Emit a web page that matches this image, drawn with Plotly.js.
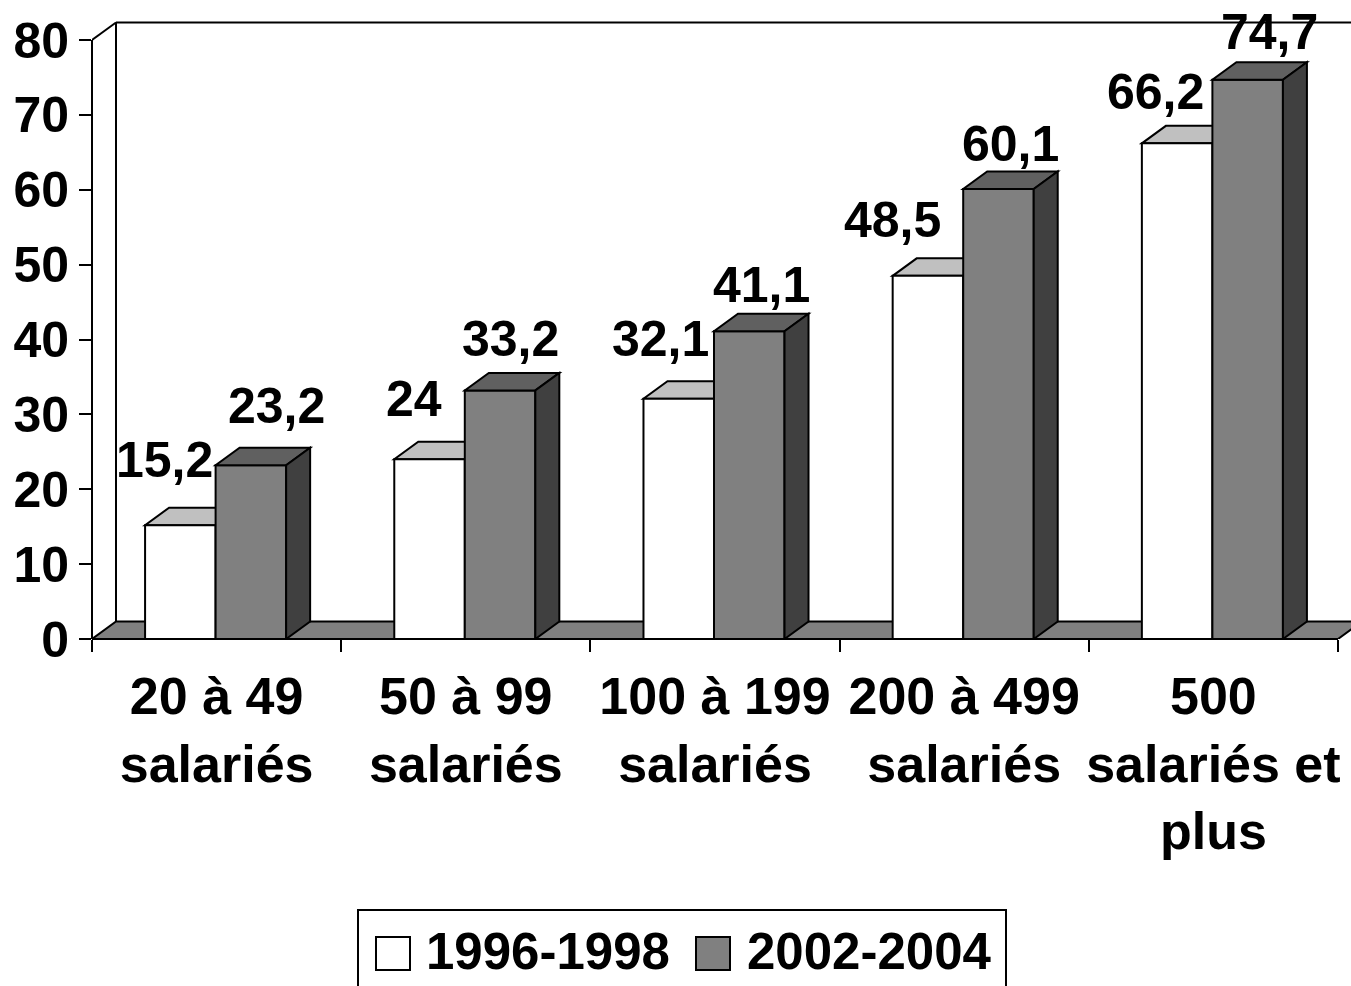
<!DOCTYPE html>
<html>
<head>
<meta charset="utf-8">
<script src="https://cdn.plot.ly/plotly-3.0.1.min.js"></script>
<style>html,body{margin:0;padding:0;background:#fff;}#chart{width:1351px;height:986px;}</style>
</head>
<body>
<div id="chart"></div>
<script>
// ---- data ----
const categoryLabels = ['20 à 49<br>salariés', '50 à 99<br>salariés', '100 à 199<br>salariés', '200 à 499<br>salariés', '500<br>salariés et<br>plus'];
const seriesNames = ['1996-1998', '2002-2004'];
const values1996 = [15.2, 24, 32.1, 48.5, 66.2];
const values2002 = [23.2, 33.2, 41.1, 60.1, 74.7];
const yTickValues = [0, 10, 20, 30, 40, 50, 60, 70, 80];

// ---- layout geometry / styles ----
const W = 1351, H = 986, ML = 92, MR = 0, MT = 10, MB = 347;
const PX_X = (W - ML - MR) / (4.5522 + 0.5);
const PX_Y = (H - MT - MB) / 84.007;
const DX = 24 / PX_X, DY = 17.5 / PX_Y;     // 3D depth in data units
const BAR_W = 0.283, OFF_W = -0.287, OFF_G = -0.004;
const FONT = 'Arial, "Liberation Sans", sans-serif';
const C_WHITE_TOP = '#c0c0c0', C_GRAY = '#808080', C_GRAY_TOP = '#606060', C_GRAY_SIDE = '#404040';
// label nudges (pixels) as placed in the original
const labelShiftW = [[-16, 65], [-16, 60], [-18, 60], [-35, 56], [-22, 51]];
const labelShiftG = [[26, 59], [10, 51], [12, 46], [12, 45], [22, 48]];

const xIdx = categoryLabels.map((_, i) => i);
const fmt = v => String(v).replace('.', ',');
const px2x = px => (px - ML) / (W - ML - MR);
const py2y = py => (H - MB - py) / (H - MT - MB);

const traces = [
  {type: 'bar', x: xIdx, y: values1996, name: seriesNames[0], width: BAR_W, offset: OFF_W,
   marker: {color: '#ffffff', line: {color: '#000', width: 2}}, showlegend: false, hoverinfo: 'skip'},
  {type: 'bar', x: xIdx, y: values2002, name: seriesNames[1], width: BAR_W, offset: OFF_G,
   marker: {color: C_GRAY, line: {color: '#000', width: 2}}, showlegend: false, hoverinfo: 'skip'}
];

const shapes = [];
const ln = {color: '#000', width: 2};
const xmin = -0.5, xmax = categoryLabels.length - 0.5;
// floor
shapes.push({type: 'path', xref: 'x', yref: 'y', layer: 'below', fillcolor: C_GRAY, line: ln,
  path: `M ${xmin},0 L ${xmax},0 L ${xmax + DX},${DY} L ${xmin + DX},${DY} Z`});
shapes.push({type: 'line', xref: 'x', yref: 'paper', layer: 'below', x0: xmin, x1: xmax, y0: 0, y1: 0, line: ln});
// back wall
const yMax = yTickValues[yTickValues.length - 1];
shapes.push({type: 'line', xref: 'x', yref: 'y', layer: 'below', x0: xmin + DX, x1: xmin + DX, y0: DY, y1: yMax + DY, line: ln});
shapes.push({type: 'line', xref: 'x', yref: 'y', layer: 'below', x0: xmin + DX, x1: 4.6, y0: yMax + DY, y1: yMax + DY, line: ln});
shapes.push({type: 'line', xref: 'x', yref: 'y', layer: 'below', x0: xmin, x1: xmin + DX, y0: yMax, y1: yMax + DY, line: ln});
// y axis line
shapes.push({type: 'line', xref: 'paper', yref: 'y', layer: 'above', x0: 0, x1: 0, y0: 0, y1: yMax, line: ln});

// 3D faces of bars
values1996.forEach((v, i) => {
  const xl = i + OFF_W, xr = xl + BAR_W;
  shapes.push({type: 'path', xref: 'x', yref: 'y', layer: 'below', fillcolor: C_WHITE_TOP, line: ln,
    path: `M ${xl},${v} L ${xr},${v} L ${xr + DX},${v + DY} L ${xl + DX},${v + DY} Z`});
});
values2002.forEach((v, i) => {
  const xl = i + OFF_G, xr = xl + BAR_W;
  shapes.push({type: 'path', xref: 'x', yref: 'y', layer: 'above', fillcolor: C_GRAY_TOP, line: ln,
    path: `M ${xl},${v} L ${xr},${v} L ${xr + DX},${v + DY} L ${xl + DX},${v + DY} Z`});
  shapes.push({type: 'path', xref: 'x', yref: 'y', layer: 'above', fillcolor: C_GRAY_SIDE, line: ln,
    path: `M ${xr},0 L ${xr + DX},${DY} L ${xr + DX},${v + DY} L ${xr},${v} Z`});
});

// legend (custom, large swatches)
shapes.push({type: 'rect', xref: 'paper', yref: 'paper', x0: px2x(358), x1: px2x(1006), y0: py2y(910), y1: py2y(1000),
  line: ln, fillcolor: 'rgba(0,0,0,0)'});
shapes.push({type: 'rect', xref: 'paper', yref: 'paper', x0: px2x(376), x1: px2x(410), y0: py2y(937), y1: py2y(970),
  line: ln, fillcolor: '#ffffff'});
shapes.push({type: 'rect', xref: 'paper', yref: 'paper', x0: px2x(696), x1: px2x(730), y0: py2y(937), y1: py2y(970),
  line: ln, fillcolor: C_GRAY});

const annotations = [];
const labFont = {family: FONT, size: 50, color: '#000', weight: 'bold'};
values1996.forEach((v, i) => {
  annotations.push({x: i + OFF_W + BAR_W / 2, y: v, xref: 'x', yref: 'y', text: fmt(v), showarrow: false,
    xanchor: 'center', yanchor: 'middle', xshift: labelShiftW[i][0], yshift: labelShiftW[i][1], font: labFont});
});
values2002.forEach((v, i) => {
  annotations.push({x: i + OFF_G + BAR_W / 2, y: v, xref: 'x', yref: 'y', text: fmt(v), showarrow: false,
    xanchor: 'center', yanchor: 'middle', xshift: labelShiftG[i][0], yshift: labelShiftG[i][1], font: labFont});
});
const legFont = {family: FONT, size: 51, color: '#000', weight: 'bold'};
annotations.push({x: px2x(424), y: py2y(951), xref: 'paper', yref: 'paper', text: seriesNames[0], showarrow: false,
  xanchor: 'left', yanchor: 'middle', font: legFont});
annotations.push({x: px2x(745), y: py2y(951), xref: 'paper', yref: 'paper', text: seriesNames[1], showarrow: false,
  xanchor: 'left', yanchor: 'middle', font: legFont});

const layout = {
  width: W, height: H,
  margin: {l: ML, r: MR, t: MT, b: MB, pad: 0},
  paper_bgcolor: '#fff', plot_bgcolor: '#fff',
  barmode: 'overlay',
  showlegend: false,
  xaxis: {range: [-0.5, 4.5522], tickmode: 'array', tickvals: xIdx, ticktext: categoryLabels,
    ticks: '', showgrid: false, zeroline: false, showline: false, fixedrange: true, ticklabelstandoff: 22,
    tickfont: {family: FONT, size: 52, color: '#000', weight: 'bold'},
    minor: {tickmode: 'linear', tick0: -0.5, dtick: 1, ticks: 'outside', ticklen: 12, tickwidth: 2, tickcolor: '#000', showgrid: false}},
  yaxis: {range: [0, 84.007], tickmode: 'array', tickvals: yTickValues, ticktext: yTickValues.map(String),
    ticks: 'outside', ticklen: 12, tickwidth: 2, tickcolor: '#000',
    showgrid: false, zeroline: false, showline: false, fixedrange: true,
    tickfont: {family: FONT, size: 50, color: '#000', weight: 'bold'}},
  shapes: shapes,
  annotations: annotations
};

Plotly.newPlot('chart', traces, layout, {displayModeBar: false, staticPlot: true});
</script>
</body>
</html>
